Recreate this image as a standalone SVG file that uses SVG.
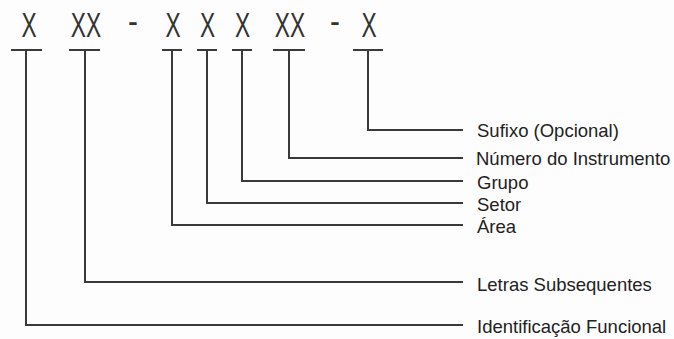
<svg xmlns="http://www.w3.org/2000/svg" width="674" height="339" viewBox="0 0 674 339">
<style>
.code{font-family:"Liberation Sans",Arial,sans-serif;font-size:35px;fill:#333;text-anchor:middle}
.lbl{font-family:"Liberation Sans",Arial,sans-serif;font-size:18.5px;fill:#222}
.ln{fill:none;stroke:#3a3a3a;stroke-width:2}
</style>
<rect width="674" height="339" fill="#fdfdfd"/>
<g id="codigo">
<text class="code" transform="translate(29,37) scale(0.65,1)">X</text>
<text class="code" transform="translate(86,37) scale(0.65,1)">XX</text>
<text class="code" transform="translate(133,33) scale(0.85,1)">-</text>
<text class="code" transform="translate(173,37) scale(0.65,1)">X</text>
<text class="code" transform="translate(207.5,37) scale(0.65,1)">X</text>
<text class="code" transform="translate(242.5,37) scale(0.65,1)">X</text>
<text class="code" transform="translate(290,37) scale(0.65,1)">XX</text>
<text class="code" transform="translate(335,33) scale(0.85,1)">-</text>
<text class="code" transform="translate(369,37) scale(0.65,1)">X</text>
</g>
<g id="connectors">
<path class="ln" d="M11 50H42M26 50V325H463"/>
<path class="ln" d="M69 50H100M85 50V282H463"/>
<path class="ln" d="M162 50H182M172 50V225H463"/>
<path class="ln" d="M197 50H217M207 50V203H463"/>
<path class="ln" d="M232 50H252M242 50V181H463"/>
<path class="ln" d="M273 50H305M289 50V158H463"/>
<path class="ln" d="M353 50H383M368 50V130H463"/>
</g>
<g id="sufixo"><text class="lbl" x="477" y="137">Sufixo (Opcional)</text></g>
<g id="numero"><text class="lbl" x="476" y="165">Número do Instrumento</text></g>
<g id="grupo"><text class="lbl" x="477" y="189">Grupo</text></g>
<g id="setor"><text class="lbl" x="477" y="211">Setor</text></g>
<g id="area"><text class="lbl" x="477" y="233">Área</text></g>
<g id="letras"><text class="lbl" x="477" y="291">Letras Subsequentes</text></g>
<g id="identificacao"><text class="lbl" x="477" y="333">Identificação Funcional</text></g>
</svg>
